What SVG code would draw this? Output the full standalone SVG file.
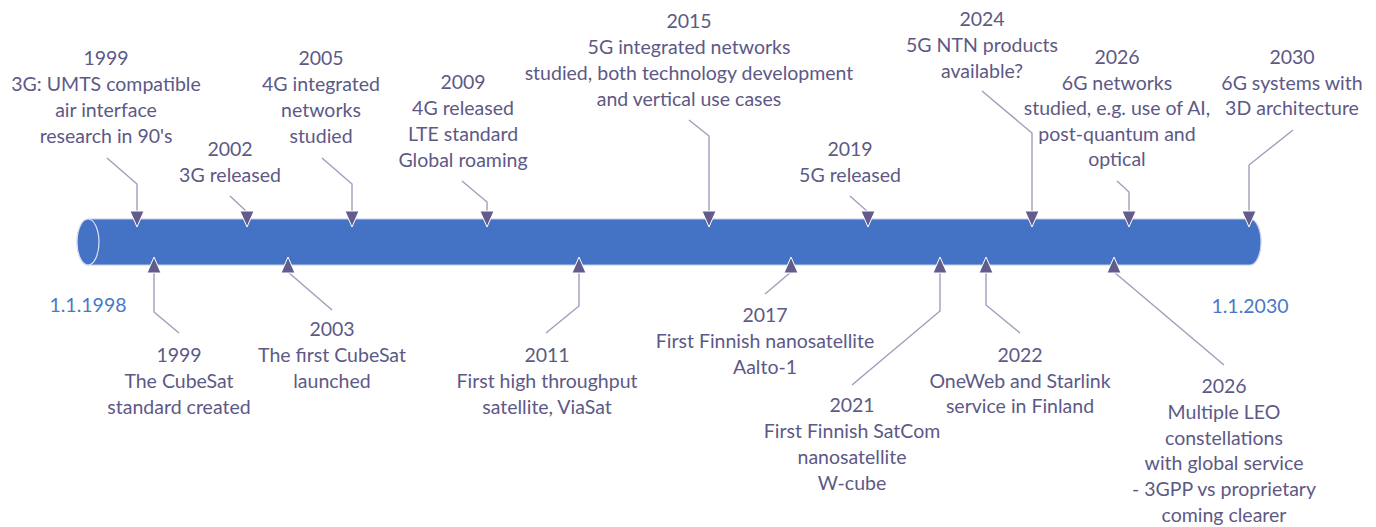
<svg xmlns="http://www.w3.org/2000/svg" width="1376" height="527" viewBox="0 0 1376 527">
<style>
text{font-family:Lato,"Open Sans","Liberation Sans",sans-serif;font-size:19.5px;fill:#5d5986;text-anchor:middle}
.blue{fill:#4a78c8}
.ln{fill:none;stroke:#a09dbb;stroke-width:1.4}
.tri{fill:#615c8c;stroke:#ffffff;stroke-width:1}
</style>
<rect width="1376" height="527" fill="#ffffff"/>
<g id="timeline">
<path d="M88,219 L1250,219 A11,23 0 0 1 1250,265 L88,265 A11,23 0 0 1 88,219 Z" fill="#4472c4" stroke="#c3cde6" stroke-width="1.2"/>
<ellipse cx="88" cy="242" rx="11" ry="23" fill="#4472c4" stroke="#dfe5f3" stroke-width="1.2"/>
</g>
<g id="connectors">
<polyline class="ln" points="107,158 137,184 137,212"/>
<polyline class="ln" points="230,196 247,212"/>
<polyline class="ln" points="322,158 352,184 352,212"/>
<polyline class="ln" points="462,181 487,202 487,212"/>
<polyline class="ln" points="689,120 709,136 709,212"/>
<polyline class="ln" points="850,196 868,212"/>
<polyline class="ln" points="982,91 1032,133 1032,212"/>
<polyline class="ln" points="1117,181 1129,192 1129,212"/>
<polyline class="ln" points="1293,130 1249,165 1249,212"/>
<polyline class="ln" points="154,272 154,312 179,333"/>
<polyline class="ln" points="288,272 332,310"/>
<polyline class="ln" points="579,272 579,306 546,333"/>
<polyline class="ln" points="791,272 765,294"/>
<polyline class="ln" points="940,272 940,311 852,385"/>
<polyline class="ln" points="986,272 986,305 1020,333"/>
<polyline class="ln" points="1114,272 1224,365"/>
<polygon class="tri" points="130,211 144,211 137,227"/>
<polygon class="tri" points="240,211 254,211 247,227"/>
<polygon class="tri" points="345,211 359,211 352,227"/>
<polygon class="tri" points="480,211 494,211 487,227"/>
<polygon class="tri" points="702,211 716,211 709,227"/>
<polygon class="tri" points="861,211 875,211 868,227"/>
<polygon class="tri" points="1025,211 1039,211 1032,227"/>
<polygon class="tri" points="1122,211 1136,211 1129,227"/>
<polygon class="tri" points="1242,211 1256,211 1249,227"/>
<polygon class="tri" points="147,273 161,273 154,257"/>
<polygon class="tri" points="281,273 295,273 288,257"/>
<polygon class="tri" points="572,273 586,273 579,257"/>
<polygon class="tri" points="784,273 798,273 791,257"/>
<polygon class="tri" points="933,273 947,273 940,257"/>
<polygon class="tri" points="979,273 993,273 986,257"/>
<polygon class="tri" points="1107,273 1121,273 1114,257"/>
</g>
<g id="ev-1999-top"><text x="106" y="65">1999</text><text x="106" y="91">3G: UMTS compatible</text><text x="106" y="117">air interface</text><text x="106" y="143">research in 90's</text></g>
<g id="ev-2002"><text x="230" y="156">2002</text><text x="230" y="182">3G released</text></g>
<g id="ev-2005"><text x="321" y="65">2005</text><text x="321" y="91">4G integrated</text><text x="321" y="117">networks</text><text x="321" y="143">studied</text></g>
<g id="ev-2009"><text x="463" y="89">2009</text><text x="463" y="115">4G released</text><text x="463" y="141">LTE standard</text><text x="463" y="167">Global roaming</text></g>
<g id="ev-2015"><text x="689" y="28">2015</text><text x="689" y="54">5G integrated networks</text><text x="689" y="80">studied, both technology development</text><text x="689" y="106">and vertical use cases</text></g>
<g id="ev-2019"><text x="850" y="156">2019</text><text x="850" y="182">5G released</text></g>
<g id="ev-2024"><text x="982" y="26">2024</text><text x="982" y="52">5G NTN products</text><text x="982" y="78">available?</text></g>
<g id="ev-2026-top"><text x="1117" y="64">2026</text><text x="1117" y="90">6G networks</text><text x="1117" y="115">studied, e.g. use of AI,</text><text x="1117" y="141">post-quantum and</text><text x="1117" y="166">optical</text></g>
<g id="ev-2030"><text x="1292" y="64">2030</text><text x="1292" y="90">6G systems with</text><text x="1292" y="115">3D architecture</text></g>
<g id="start"><text class="blue" x="88" y="312">1.1.1998</text></g>
<g id="end"><text class="blue" x="1250" y="313">1.1.2030</text></g>
<g id="ev-1999-bot"><text x="179" y="362">1999</text><text x="179" y="388">The CubeSat</text><text x="179" y="414">standard created</text></g>
<g id="ev-2003"><text x="332" y="336">2003</text><text x="332" y="362">The first CubeSat</text><text x="332" y="388">launched</text></g>
<g id="ev-2011"><text x="547" y="362">2011</text><text x="547" y="388">First high throughput</text><text x="547" y="414">satellite, ViaSat</text></g>
<g id="ev-2017"><text x="765" y="322">2017</text><text x="765" y="348">First Finnish nanosatellite</text><text x="765" y="374">Aalto-1</text></g>
<g id="ev-2021"><text x="852" y="412">2021</text><text x="852" y="438">First Finnish SatCom</text><text x="852" y="464">nanosatellite</text><text x="852" y="490">W-cube</text></g>
<g id="ev-2022"><text x="1020" y="362">2022</text><text x="1020" y="388">OneWeb and Starlink</text><text x="1020" y="413">service in Finland</text></g>
<g id="ev-2026-bot"><text x="1224" y="393">2026</text><text x="1224" y="419">Multiple LEO</text><text x="1224" y="445">constellations</text><text x="1224" y="470">with global service</text><text x="1224" y="496">- 3GPP vs proprietary</text><text x="1224" y="522">coming clearer</text></g>
</svg>
